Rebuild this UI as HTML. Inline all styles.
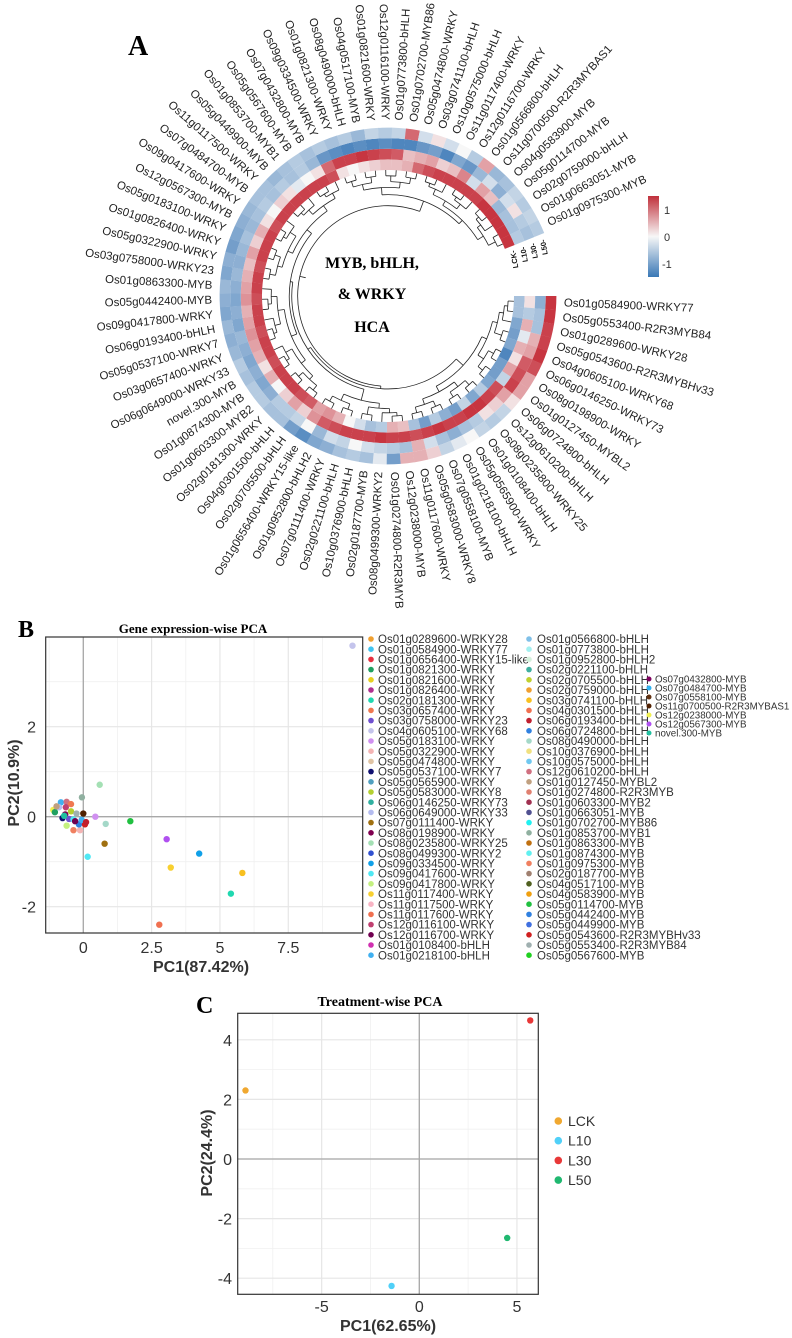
<!DOCTYPE html>
<html><head><meta charset="utf-8"><style>
html,body{margin:0;padding:0;background:#fff}
svg{display:block}
text{font-family:"Liberation Sans",sans-serif}
.serif{font-family:"Liberation Serif",serif;font-weight:bold}
</style></head><body>
<svg id="fig" width="792" height="1338" viewBox="0 0 792 1338" xmlns="http://www.w3.org/2000/svg">
<text class="serif" x="128" y="55" font-size="28">A</text>
<g id="hca"></g>
<text class="serif" x="372" y="268" font-size="16" text-anchor="middle">MYB, bHLH,</text>
<text class="serif" x="372" y="299" font-size="16" text-anchor="middle">&amp; WRKY</text>
<text class="serif" x="372" y="332" font-size="16" text-anchor="middle">HCA</text>
<defs><linearGradient id="cb" x1="0" y1="0" x2="0" y2="1"><stop offset="0" stop-color="#c0303b"/><stop offset="0.5" stop-color="#f7f7f7"/><stop offset="1" stop-color="#3a78b6"/></linearGradient></defs>
<rect x="648" y="196" width="11" height="81" fill="url(#cb)"/>
<text x="664" y="214" font-size="11" fill="#333">1</text>
<text x="664" y="241" font-size="11" fill="#333">0</text>
<text x="662" y="268" font-size="11" fill="#333">-1</text>

<text class="serif" x="18" y="637" font-size="24">B</text>
<text class="serif" x="193" y="633" font-size="13" text-anchor="middle">Gene expression-wise PCA</text>
<g id="pcaB"></g>
<g id="legB"></g>

<text class="serif" x="196" y="1013" font-size="24">C</text>
<text class="serif" x="380" y="1006" font-size="14" text-anchor="middle">Treatment-wise PCA</text>
<g id="pcaC"></g>
</svg>
<script>
// ---------- Panel A data ----------
const genes = ["Os01g0584900-WRKY77","Os05g0553400-R2R3MYB84","Os01g0289600-WRKY28","Os05g0543600-R2R3MYBHv33","Os04g0605100-WRKY68","Os06g0146250-WRKY73","Os08g0198900-WRKY","Os01g0127450-MYBL2","Os06g0724800-bHLH","Os12g0610200-bHLH","Os08g0235800-WRKY25","Os01g0108400-bHLH","Os05g0565900-WRKY","Os01g0218100-bHLH","Os07g0558100-MYB","Os05g0583000-WRKY8","Os11g0117600-WRKY","Os12g0238000-MYB","Os01g0274800-R2R3MYB","Os08g0499300-WRKY2","Os02g0187700-MYB","Os10g0376900-bHLH","Os02g0221100-bHLH","Os07g0111400-WRKY","Os01g0952800-bHLH2","Os01g0656400-WRKY15-like","Os02g0705500-bHLH","Os04g0301500-bHLH","Os02g0181300-WRKY","Os01g0603300-MYB2","Os01g0874300-MYB","novel.300-MYB","Os06g0649000-WRKY33","Os03g0657400-WRKY","Os05g0537100-WRKY7","Os06g0193400-bHLH","Os09g0417800-WRKY","Os05g0442400-MYB","Os01g0863300-MYB","Os03g0758000-WRKY23","Os05g0322900-WRKY","Os01g0826400-WRKY","Os05g0183100-WRKY","Os12g0567300-MYB","Os09g0417600-WRKY","Os07g0484700-MYB","Os11g0117500-WRKY","Os05g0449900-MYB","Os01g0853700-MYB1","Os05g0567600-MYB","Os07g0432800-MYB","Os09g0334500-WRKY","Os01g0821300-WRKY","Os08g0490000-bHLH","Os04g0517100-MYB","Os01g0821600-WRKY","Os12g0116100-WRKY","Os01g0773800-bHLH","Os01g0702700-MYB86","Os05g0474800-WRKY","Os03g0741100-bHLH","Os10g0575000-bHLH","Os11g0117400-WRKY","Os12g0116700-WRKY","Os01g0566800-bHLH","Os11g0700500-R2R3MYBAS1","Os04g0583900-MYB","Os05g0114700-MYB","Os02g0759000-bHLH","Os01g0663051-MYB","Os01g0975300-MYB"];
const treatments = ["LCK","L10","L30","L50"];
const valLCK = [-0.5,-0.5,-0.8,-0.9,-0.8,-1.2,-0.9,-0.9,-0.8,-0.4,-0.8,-0.3,-0.9,-0.7,-0.4,-0.9,-0.5,0.3,0.4,-0.4,-0.5,-0.2,0.0,0.4,0.6,0.5,1.0,1.1,1.2,1.2,1.2,1.1,1.2,1.2,1.1,1.2,1.2,1.1,1.2,1.2,1.1,1.2,1.2,1.2,1.1,1.2,1.2,1.2,1.2,1.2,1.2,1.1,0.1,0.0,0.1,0.2,0.3,0.3,0.4,0.9,1.1,1.2,1.2,1.2,1.2,1.2,1.3,1.3,1.3,1.3,1.3];
const valL10 = [0.1,-0.4,0.4,-0.1,0.4,0.1,0.5,-0.3,1.1,1.2,1.3,1.3,1.2,1.2,1.3,1.2,1.1,1.2,1.2,1.3,1.2,1.2,1.2,1.1,1.0,0.6,0.2,0.5,0.2,0.0,0.4,0.1,0.4,0.5,0.6,0.5,0.4,0.6,0.5,0.4,0.3,0.5,0.2,0.4,0.1,0.0,0.2,0.1,-0.1,0.0,0.1,0.9,1.2,1.2,1.3,1.2,1.1,1.0,0.3,0.4,0.5,0.2,0.3,0.7,-0.2,0.5,0.3,-0.6,-0.5,-0.5,-0.4];
const valL30 = [-0.7,-0.5,-0.5,0.4,0.5,1.0,1.1,1.2,0.5,0.2,0.1,-0.4,-0.5,-0.7,-0.5,-0.2,0.4,-0.5,-0.4,-0.3,-0.2,0.0,-0.3,-0.2,-0.6,0.0,-0.3,-0.4,-0.4,-0.7,-0.8,-0.7,-0.8,-0.7,-0.6,-0.8,-0.7,-0.8,-0.7,-0.6,-0.7,-0.6,-0.5,-0.6,-0.5,-0.4,-0.5,-0.4,-0.5,-0.4,-0.6,-1.0,-1.1,-1.2,-1.1,-1.2,-1.1,-1.2,-1.2,-1.0,-0.9,-1.2,-0.8,-1.0,-0.6,-0.2,-0.7,-0.2,0.1,-0.4,-0.5];
const valL50 = [1.3,1.3,1.2,1.2,1.3,1.1,0.5,0.5,0.1,-0.3,-0.4,-0.3,0.0,-0.1,-0.3,0.2,0.4,0.4,-0.9,-0.1,-0.5,-0.4,-0.5,-0.7,-0.8,-1.1,-0.9,-0.5,-0.5,-0.4,-0.4,-0.5,-0.4,-0.6,-0.7,-0.6,-0.8,-0.7,-0.6,-0.8,-0.7,-0.9,-0.8,-0.7,-0.6,-0.5,-0.5,-0.6,-0.5,-0.4,-0.5,-0.4,-0.5,-0.4,-0.6,-0.3,-0.4,-0.3,0.9,-0.2,0.1,-0.2,0.0,-0.4,0.5,-0.6,-0.5,-0.3,-0.4,-0.3,-0.4];
const NS="http://www.w3.org/2000/svg";
function mk(tag,attrs,parent){const e=document.createElementNS(NS,tag);for(const k in attrs)e.setAttribute(k,attrs[k]);parent.appendChild(e);return e;}
const CX=388,CY=296,R0=126,RW=10.6,A0=0,A1=338;
const step=(A1-A0)/genes.length;
function rad(d){return d*Math.PI/180}
function pt(r,d){return [CX+r*Math.cos(rad(d)),CY+r*Math.sin(rad(d))]}
function col(v){v=Math.max(-1.4,Math.min(1.4,v))/1.4;
 const w=[247,247,247],red=[196,40,52],blue=[56,118,182];
 const t=Math.abs(v),c=v>0?red:blue;
 return "rgb("+w.map((x,i)=>Math.round(x+(c[i]-x)*Math.pow(t,0.85))).join(",")+")";}
function sector(r1,r2,a1,a2){const p1=pt(r1,a1),p2=pt(r2,a1),p3=pt(r2,a2),p4=pt(r1,a2);
 return `M${p1}L${p2}A${r2},${r2} 0 0 1 ${p3}L${p4}A${r1},${r1} 0 0 0 ${p1}Z`;}
const hca=document.getElementById('hca');
const rings=[valLCK,valL10,valL30,valL50];
rings.forEach((arr,k)=>{arr.forEach((v,i)=>{
 const p=mk('path',{d:sector(R0+k*RW,R0+(k+1)*RW,A0+i*step,A0+(i+1)*step+0.05),fill:col(v)},hca);
 
 
});});
genes.forEach((g,i)=>{
 const a=A0+(i+0.5)*step;const right=Math.cos(rad(a))>=0;
 const t=mk('text',{'font-size':'11.5',fill:'#222','dominant-baseline':'middle'},hca);
 if(right){t.setAttribute('transform',`translate(${CX},${CY}) rotate(${a})`);t.setAttribute('x',176);t.setAttribute('text-anchor','start');}
 else{t.setAttribute('transform',`translate(${CX},${CY}) rotate(${a+180})`);t.setAttribute('x',-176);t.setAttribute('text-anchor','end');}
 t.textContent=g;
 
 
});
treatments.forEach((tr,k)=>{
 const [x,y]=pt(R0+(k+0.5)*RW+2,A1+2);
 const t=mk('text',{'font-size':'7.5','font-weight':'bold',fill:'#111',transform:`translate(${x},${y}) rotate(${A1+90-180+12})`,'text-anchor':'end','dominant-baseline':'middle'},hca);
 t.textContent=tr+'-';
 
 
});
// dendrogram (structure)
const treeSpec=[[[0,16],[[17,25],[26,51]]],[[52,59],[60,70]]];
function rOf(n){return R0-5.8*Math.log2(n)}
function build(node){
 if(typeof node[0]==='number'){const [lo,hi]=node;
  if(lo===hi)return {a:A0+(lo+0.5)*step,r:R0,n:1};
  const mid=Math.floor((lo+hi)/2);return join(build([lo,mid]),build([mid+1,hi]));}
 return join(build(node[0]),build(node[1]));}
const dg=mk('g',{stroke:'#222','stroke-width':'0.8',fill:'none'},hca);


function join(A,B){const n=A.n+B.n,r=rOf(n);
 [A,B].forEach(c=>{const p1=pt(c.r,c.a),p2=pt(r,c.a);mk('path',{d:`M${p1}L${p2}`},dg);});
 const p1=pt(r,A.a),p2=pt(r,B.a);const large=(B.a-A.a)>180?1:0;
 mk('path',{d:`M${p1}A${r},${r} 0 ${large} 1 ${p2}`},dg);
 return {a:(A.a+B.a)/2,r:r,n:n};}
const root=build(treeSpec);
mk('path',{d:`M${pt(root.r,root.a)}L${pt(root.r-6,root.a)}`},dg);

// ---------- Panel B data ----------
const legCol1=["Os01g0289600-WRKY28","Os01g0584900-WRKY77","Os01g0656400-WRKY15-like","Os01g0821300-WRKY","Os01g0821600-WRKY","Os01g0826400-WRKY","Os02g0181300-WRKY","Os03g0657400-WRKY","Os03g0758000-WRKY23","Os04g0605100-WRKY68","Os05g0183100-WRKY","Os05g0322900-WRKY","Os05g0474800-WRKY","Os05g0537100-WRKY7","Os05g0565900-WRKY","Os05g0583000-WRKY8","Os06g0146250-WRKY73","Os06g0649000-WRKY33","Os07g0111400-WRKY","Os08g0198900-WRKY","Os08g0235800-WRKY25","Os08g0499300-WRKY2","Os09g0334500-WRKY","Os09g0417600-WRKY","Os09g0417800-WRKY","Os11g0117400-WRKY","Os11g0117500-WRKY","Os11g0117600-WRKY","Os12g0116100-WRKY","Os12g0116700-WRKY","Os01g0108400-bHLH","Os01g0218100-bHLH"];
const colCol1=["#f0a030","#40c4f0","#e83040","#20a060","#e8d020","#b03090","#20d8b0","#f07850","#7050d0","#c4c4ec","#d090f0","#f4b4b4","#e0c4a4","#101070","#50a0c0","#b4d030","#30b0a0","#b4bcf0","#a07010","#800050","#a4e0b4","#3050d0","#10a0e8","#50e8f4","#c4f080","#f8d030","#f8b4c4","#f07050","#c04070","#700050","#d030b0","#40b0f0"];
const legCol2=["Os01g0566800-bHLH","Os01g0773800-bHLH","Os01g0952800-bHLH2","Os02g0221100-bHLH","Os02g0705500-bHLH","Os02g0759000-bHLH","Os03g0741100-bHLH","Os04g0301500-bHLH","Os06g0193400-bHLH","Os06g0724800-bHLH","Os08g0490000-bHLH","Os10g0376900-bHLH","Os10g0575000-bHLH","Os12g0610200-bHLH","Os01g0127450-MYBL2","Os01g0274800-R2R3MYB","Os01g0603300-MYB2","Os01g0663051-MYB","Os01g0702700-MYB86","Os01g0853700-MYB1","Os01g0863300-MYB","Os01g0874300-MYB","Os01g0975300-MYB","Os02g0187700-MYB","Os04g0517100-MYB","Os04g0583900-MYB","Os05g0114700-MYB","Os05g0442400-MYB","Os05g0449900-MYB","Os05g0543600-R2R3MYBHv33","Os05g0553400-R2R3MYB84","Os05g0567600-MYB"];
const colCol2=["#80c0e8","#a4f0f0","#d4f0dc","#40b0a0","#c0d030","#f0a030","#f8c020","#f07050","#c02030","#3080e0","#a4d8c8","#f0e080","#70c8f0","#d07080","#c0a080","#e08070","#a03050","#505090","#20f0f0","#90b0a0","#c07010","#60f0f0","#f08060","#a08070","#506020","#f0a010","#20c040","#3080e0","#4070e0","#d02020","#a0b0b0","#20d020"];
const legCol3=["Os07g0432800-MYB","Os07g0484700-MYB","Os07g0558100-MYB","Os11g0700500-R2R3MYBAS1","Os12g0238000-MYB","Os12g0567300-MYB","novel.300-MYB"];
const colCol3=["#800060","#30b0f0","#603010","#502000","#f0f050","#b050f0","#20c0a0"];
const pc1=[9.85,1.72,3.05,4.24,3.2,5.82,5.4,2.78,0.78,0.16,0.6,-0.05,0.82,0.44,-1.1,-0.82,-0.61,-0.45,-0.89,-0.64,-0.45,-0.66,-0.76,-0.52,-0.36,-0.61,-0.36,-0.12,-0.16,0.06,0.0,-0.06,-1.04,-0.98,-0.25,-0.7,-0.3,0.1];
const pc2=[3.8,-0.1,-0.5,-0.82,-1.13,-1.25,-1.71,-2.4,-0.6,-0.89,0.71,0.43,-0.16,0.0,0.15,0.32,0.33,0.28,0.21,0.21,0.12,0.05,-0.03,-0.05,-0.06,-0.2,-0.3,-0.3,-0.17,-0.17,0.07,-0.07,0.1,0.23,0.07,0.02,-0.1,-0.12];
const pcCol=["#c4c4ec","#20c040","#b050f0","#10a0e8","#f8d030","#f8c020","#20d8b0","#f07050","#a07010","#50e8f4","#a4e0b4","#90b0a0","#a4d8c8","#d090f0","#f0f050","#40b0f0","#d07080","#f07850","#b4bcf0","#c04070","#b4d030","#800050","#101070","#7050d0","#50e8f4","#c4f080","#f08060","#f4b4b4","#3080e0","#d02020","#502000","#40b0f0","#20a060","#c0a080","#a0b0b0","#20c0a0","#700050","#c02030"];
const bXTicks=[0,2.5,5,7.5], bXLab=["0","2.5","5","7.5"], bYTicks=[-2,0,2], bYLab=["-2","0","2"];
const bXMinor=[-1.25,1.25,3.75,6.25,8.75], bYMinor=[-1,1,3];
const bx=v=>83.3+v*27.33, by=v=>816.7-v*45;
const BL=45.7,BR=362.7,BT=637,BB=933;
const gB=document.getElementById('pcaB');
mk('rect',{x:BL,y:BT,width:BR-BL,height:BB-BT,fill:'#fff'},gB);
bXMinor.forEach(v=>mk('line',{x1:bx(v),x2:bx(v),y1:BT,y2:BB,stroke:'#f0f0f0','stroke-width':0.8},gB));
bYMinor.forEach(v=>mk('line',{x1:BL,x2:BR,y1:by(v),y2:by(v),stroke:'#f0f0f0','stroke-width':0.8},gB));
bXTicks.forEach(v=>mk('line',{x1:bx(v),x2:bx(v),y1:BT,y2:BB,stroke:'#e6e6e6','stroke-width':1.2},gB));
bYTicks.forEach(v=>mk('line',{x1:BL,x2:BR,y1:by(v),y2:by(v),stroke:'#e6e6e6','stroke-width':1.2},gB));
mk('line',{x1:bx(0),x2:bx(0),y1:BT,y2:BB,stroke:'#a8a8a8','stroke-width':1.3},gB);
mk('line',{x1:BL,x2:BR,y1:by(0),y2:by(0),stroke:'#a8a8a8','stroke-width':1.3},gB);
pc1.forEach((v,i)=>{const c=mk('circle',{cx:bx(v),cy:by(pc2[i]),r:3.2,fill:pcCol[i]},gB);
 
 });
mk('rect',{x:BL,y:BT,width:BR-BL,height:BB-BT,fill:'none',stroke:'#333','stroke-width':1.2},gB);
bXTicks.forEach((v,i)=>{const t=mk('text',{x:bx(v),y:953,'font-size':'16',fill:'#333','text-anchor':'middle'},gB);t.textContent=bXLab[i];
 });
bYTicks.forEach((v,i)=>{const t=mk('text',{x:36,y:by(v)+6,'font-size':'16',fill:'#333','text-anchor':'end'},gB);t.textContent=bYLab[i];
 });
{const t=mk('text',{x:201,y:972,'font-size':'16','font-weight':'bold',fill:'#333','text-anchor':'middle'},gB);t.textContent='PC1(87.42%)';
 
 const u=mk('text',{x:0,y:0,'font-size':'16','font-weight':'bold',fill:'#333','text-anchor':'middle',transform:'translate(19,783) rotate(-90)'},gB);u.textContent='PC2(10.9%)';
 }
const gL=document.getElementById('legB');
function legCol(names,cols,dx,tx,y0,dy,fs,rr){names.forEach((n,i)=>{const y=y0+i*dy;
 const c=mk('circle',{cx:dx,cy:y,r:rr,fill:cols[i]},gL);
 
 const t=mk('text',{x:tx,y:y+fs*0.36,'font-size':fs,fill:'#333',textLength:'',},gL);t.removeAttribute('textLength');t.textContent=n;
 });}
legCol(legCol1,colCol1,371,378,639,10.2,11.5,2.8);
legCol(legCol2,colCol2,529,537,639,10.2,11.5,2.8);
legCol(legCol3,colCol3,649,655,679,9,9.8,2.5);

// ---------- Panel C data ----------
const trtNames=["LCK","L10","L30","L50"];
const trtPC1=[-8.9,-1.42,5.68,4.5];
const trtPC2=[2.3,-4.26,4.65,-2.65];
const trtCol=["#f0a830","#50d0f8","#e83838","#20b870"];
const cXTicks=[-5,0,5], cXLab=["-5","0","5"], cYTicks=[-4,-2,0,2,4], cYLab=["-4","-2","0","2","4"];
const cXMinor=[-7.5,-2.5,2.5], cYMinor=[-3,-1,1,3];
const cx=v=>419.3+v*19.53, cy=v=>1159-v*29.8;
const CL=237.7,CR=538.3,CT=1013.3,CB=1294.3;
const gC=document.getElementById('pcaC');
mk('rect',{x:CL,y:CT,width:CR-CL,height:CB-CT,fill:'#fff'},gC);
cXMinor.forEach(v=>mk('line',{x1:cx(v),x2:cx(v),y1:CT,y2:CB,stroke:'#f0f0f0','stroke-width':0.8},gC));
cYMinor.forEach(v=>mk('line',{x1:CL,x2:CR,y1:cy(v),y2:cy(v),stroke:'#f0f0f0','stroke-width':0.8},gC));
cXTicks.forEach(v=>mk('line',{x1:cx(v),x2:cx(v),y1:CT,y2:CB,stroke:'#e6e6e6','stroke-width':1.2},gC));
cYTicks.forEach(v=>mk('line',{x1:CL,x2:CR,y1:cy(v),y2:cy(v),stroke:'#e6e6e6','stroke-width':1.2},gC));
mk('line',{x1:cx(0),x2:cx(0),y1:CT,y2:CB,stroke:'#a8a8a8','stroke-width':1.3},gC);
mk('line',{x1:CL,x2:CR,y1:cy(0),y2:cy(0),stroke:'#a8a8a8','stroke-width':1.3},gC);
trtPC1.forEach((v,i)=>{const c=mk('circle',{cx:cx(v),cy:cy(trtPC2[i]),r:3.2,fill:trtCol[i]},gC);
 
 });
mk('rect',{x:CL,y:CT,width:CR-CL,height:CB-CT,fill:'none',stroke:'#333','stroke-width':1.2},gC);
cXTicks.forEach((v,i)=>{const t=mk('text',{x:cx(v),y:1312,'font-size':'16',fill:'#333','text-anchor':'middle'},gC);t.textContent=cXLab[i];
 });
cYTicks.forEach((v,i)=>{const t=mk('text',{x:232,y:cy(v)+6,'font-size':'16',fill:'#333','text-anchor':'end'},gC);t.textContent=cYLab[i];
 });
{const t=mk('text',{x:388,y:1331,'font-size':'16','font-weight':'bold',fill:'#333','text-anchor':'middle'},gC);t.textContent='PC1(62.65%)';
 
 const u=mk('text',{x:0,y:0,'font-size':'16','font-weight':'bold',fill:'#333','text-anchor':'middle',transform:'translate(212,1153) rotate(-90)'},gC);u.textContent='PC2(24.4%)';
 }
trtNames.forEach((n,i)=>{const y=1121+i*19.7;
 const c=mk('circle',{cx:558.3,cy:y,r:3.8,fill:trtCol[i]},gC);
 
 const t=mk('text',{x:568,y:y+5,'font-size':'14',fill:'#333'},gC);t.textContent=n;
 });
</script>
</body></html>
